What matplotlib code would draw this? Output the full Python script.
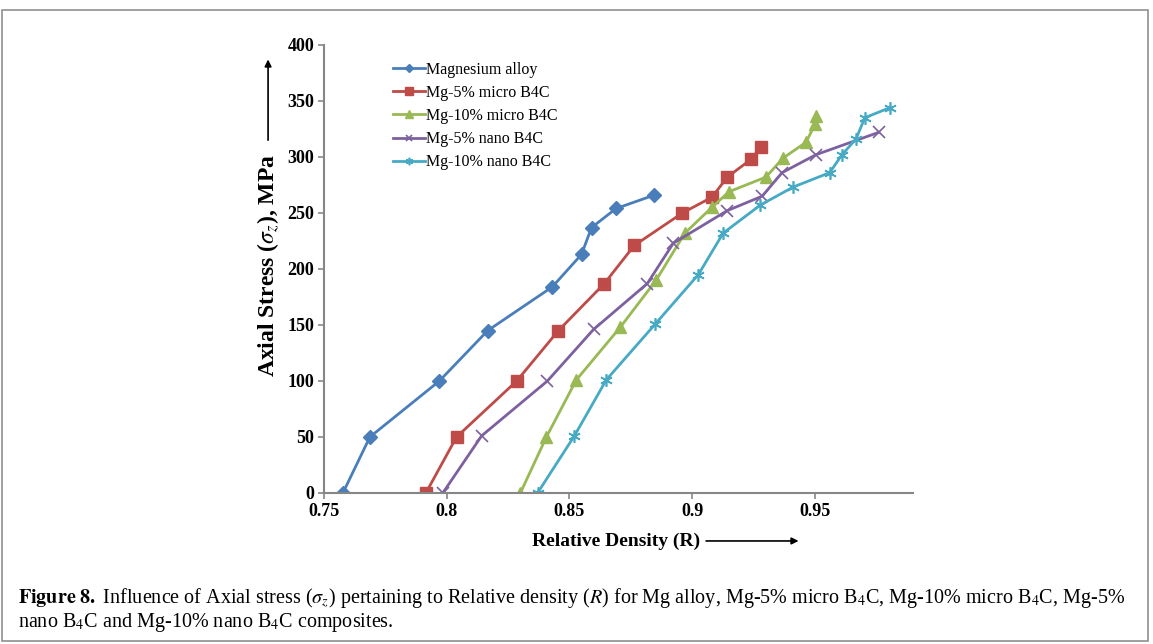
import matplotlib
matplotlib.use("Agg")
import matplotlib.pyplot as plt
from matplotlib.patches import Rectangle

plt.rcParams['font.family'] = ['Liberation Serif', 'DejaVu Serif']
plt.rcParams['mathtext.fontset'] = 'stix'

# data
mg_x = [0.7577, 0.7687, 0.797, 0.8167, 0.843, 0.8549, 0.859, 0.869, 0.8846]
mg_y = [0, 50, 100, 145, 184, 213, 237, 254, 266]

m5_x = [0.7915, 0.804, 0.8285, 0.8455, 0.8642, 0.8764, 0.896, 0.908, 0.9143, 0.924, 0.928]
m5_y = [0, 50, 100, 145, 187, 221, 250, 264, 282, 298, 309]

m10_x = [0.830, 0.8406, 0.8528, 0.8707, 0.8853, 0.897, 0.908, 0.915, 0.930, 0.937, 0.9463, 0.950, 0.9504]
m10_y = [0, 50, 101, 148, 190, 232, 255, 269, 282, 299, 313, 329, 337]

n5_x = [0.7984, 0.8142, 0.841, 0.8598, 0.8817, 0.8923, 0.9142, 0.9285, 0.9366, 0.9504, 0.976]
n5_y = [0, 51, 100, 146, 187, 223, 252, 265, 286, 302, 322]

n10_x = [0.837, 0.852, 0.865, 0.885, 0.9025, 0.9126, 0.9277, 0.941, 0.956, 0.961, 0.9667, 0.9703, 0.9805]
n10_y = [0, 51, 101, 151, 195, 232, 257, 273, 286, 302, 316, 335, 344]

labels = ['Magnesium alloy', 'Mg-5% micro B4C', 'Mg-10% micro B4C',
          'Mg-5% nano B4C', 'Mg-10% nano B4C']
xticks = [0.75, 0.8, 0.85, 0.9, 0.95]
yticks = [0, 50, 100, 150, 200, 250, 300, 350, 400]

fig = plt.figure(figsize=(11.53, 6.44), dpi=100)
ax = fig.add_axes([0.281, 0.2345, 0.511, 0.6957])

ax.plot(mg_x, mg_y, color='#4A7EBB', lw=2, marker='D', ms=7, label=labels[0])
ax.plot(m5_x, m5_y, color='#BE4B48', lw=2, marker='s', ms=8.5, label=labels[1])
ax.plot(m10_x, m10_y, color='#98B954', lw=2, marker='^', ms=8.5, label=labels[2])
ax.plot(n5_x, n5_y, color='#7D60A0', lw=2, marker='x', ms=8, mew=1.2, label=labels[3])
ax.plot(n10_x, n10_y, color='#46AAC5', lw=2, marker=(6, 2, 0), ms=9, mew=1.2, label=labels[4])

ax.set_xlim(0.75, 0.99)
ax.set_ylim(0, 400)
ax.set_xticks(xticks)
ax.set_xticklabels(['0.75', '0.8', '0.85', '0.9', '0.95'])
ax.set_yticks(yticks)
for s in ['top', 'right']:
    ax.spines[s].set_visible(False)
for s in ['left', 'bottom']:
    ax.spines[s].set_color('#868686')
    ax.spines[s].set_linewidth(1.5)
ax.tick_params(direction='out', length=4, color='#868686', width=1.2,
               labelsize=13, pad=3)
for t in ax.get_xticklabels() + ax.get_yticklabels():
    t.set_fontweight('bold')

ax.legend(loc='upper left', bbox_to_anchor=(0.092, 0.995), frameon=False,
          fontsize=11.5, handlelength=2.0, handletextpad=0.1,
          labelspacing=0.45, markerscale=0.6)

# axis titles with arrows
fig.text(0.2325, 0.588, r'Axial Stress ($\sigma_z$), MPa', rotation=90,
         ha='center', va='center', fontsize=17, fontweight='bold')
ax.annotate('', xy=(0.2325, 0.912), xycoords='figure fraction',
            xytext=(0.2325, 0.778), textcoords='figure fraction',
            arrowprops=dict(arrowstyle='-|>', color='black', lw=1.2))
fig.text(0.534, 0.16, 'Relative Density (R)', ha='center', va='center',
         fontsize=14, fontweight='bold')
ax.annotate('', xy=(0.695, 0.16), xycoords='figure fraction',
            xytext=(0.61, 0.16), textcoords='figure fraction',
            arrowprops=dict(arrowstyle='-|>', color='black', lw=1.2))

# caption
fig.text(0.016, 0.072, r'$\mathbf{Figure\ 8.}$ Influence of Axial stress ($\sigma_z$) pertaining to Relative density ($R$) for Mg alloy, Mg-5% micro B$_4$C, Mg-10% micro B$_4$C, Mg-5%',
         fontsize=14.5, ha='left', va='center')
fig.text(0.016, 0.033, r'nano B$_4$C and Mg-10% nano B$_4$C composites.',
         fontsize=14.5, ha='left', va='center')

fig.add_artist(Rectangle((0.002, 0.005), 0.994, 0.98, transform=fig.transFigure,
                         fill=False, edgecolor='#909090', lw=1.2))

fig.savefig('out.png', dpi=100)
